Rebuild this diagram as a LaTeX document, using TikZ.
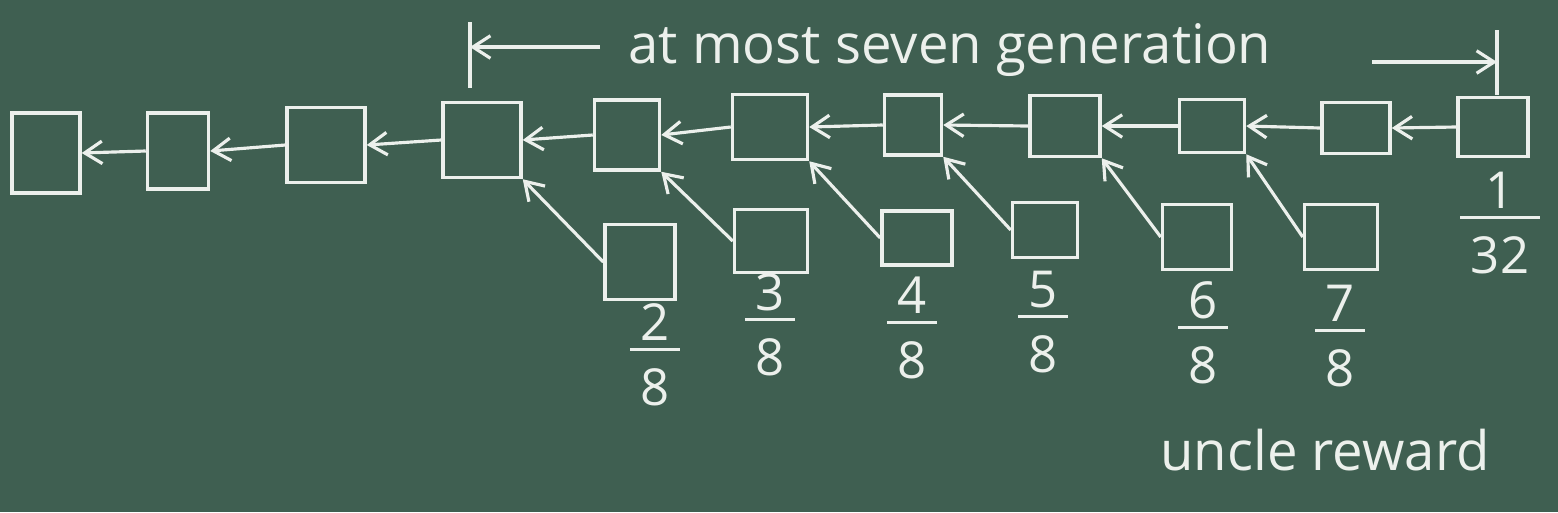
\documentclass[tikz,border=0pt]{standalone}
\usepackage{fontspec}
\setmainfont{Open Sans}
\usetikzlibrary{arrows.meta,positioning}

\definecolor{board}{RGB}{63,95,81}
\definecolor{chalk}{RGB}{236,240,236}

% stacked fraction in chalk
\newcommand{\frc}[2]{\begin{tabular}{@{\hspace{6pt}}c@{\hspace{6pt}}}#1\\[-5pt]\hline\rule{0pt}{31pt}#2\end{tabular}}

\begin{document}
\begin{tikzpicture}[
  x=0.02cm, y=-0.02cm,
  blk/.style={rectangle, draw=chalk, line width=2pt, inner sep=0pt},
  arrow/.style={draw=chalk, line width=1.8pt, -{Straight Barb[length=3.5mm, width=4.5mm]}},
  bar/.style={draw=chalk, line width=1.8pt},
  frac/.style={text=chalk, font=\fontsize{29}{31}\selectfont, inner sep=0pt},
  words/.style={text=chalk, font=\fontsize{31}{34}\selectfont, inner sep=0pt}]

\fill[board] (0,0) rectangle (1558,512);
\useasboundingbox (0,0) rectangle (1558,512);
\arrayrulewidth=1.8pt

% main chain
\node[blk, minimum width=1.36cm, minimum height=1.60cm] (b1) at (46,153) {};
\node[blk, minimum width=1.22cm, minimum height=1.52cm] (b2) at (178,151) {};
\node[blk, minimum width=1.56cm, minimum height=1.50cm] (b3) at (326,145) {};
\node[blk, minimum width=1.56cm, minimum height=1.50cm] (b4) at (482,140) {};
\node[blk, minimum width=1.30cm, minimum height=1.40cm] (b5) at (627,135) {};
\node[blk, minimum width=1.50cm, minimum height=1.30cm] (b6) at (770,127) {};
\node[blk, minimum width=1.14cm, minimum height=1.20cm] (b7) at (913,125) {};
\node[blk, minimum width=1.40cm, minimum height=1.22cm] (b8) at (1065,126) {};
\node[blk, minimum width=1.30cm, minimum height=1.06cm] (b9) at (1212,126) {};
\node[blk, minimum width=1.36cm, minimum height=1.02cm] (b10) at (1356,128) {};
\node[blk, minimum width=1.40cm, minimum height=1.18cm] (b11) at (1493,127) {};

% uncles
\node[blk, minimum width=1.40cm, minimum height=1.50cm] (u1) at (640,262) {};
\node[blk, minimum width=1.46cm, minimum height=1.26cm] (u2) at (771,241) {};
\node[blk, minimum width=1.40cm, minimum height=1.08cm] (u3) at (917,238) {};
\node[blk, minimum width=1.30cm, minimum height=1.10cm] (u4) at (1045,230) {};
\node[blk, minimum width=1.38cm, minimum height=1.30cm] (u5) at (1197,237) {};
\node[blk, minimum width=1.46cm, minimum height=1.30cm] (u6) at (1341,237) {};

% rewards
\node[frac] (f2) at (655,362) {\frc{2}{8}};
\node[frac] (f3) at (770,332) {\frc{3}{8}};
\node[frac] (f4) at (912,335) {\frc{4}{8}};
\node[frac] (f5) at (1043,329) {\frc{5}{8}};
\node[frac] (f6) at (1203,340) {\frc{6}{8}};
\node[frac] (f7) at (1340,343) {\frc{7}{8}};
\node[frac] (f32) at (1500,230) {\frc{1}{32}};

\node[words] (title) at (950,50) {at most seven generation};
\node[words] (reward) at (1325,450) {uncle reward};

% span marks
\coordinate (lt) at (470,22);
\coordinate (lb) at (470,88);
\coordinate (lm) at (470,47);
\coordinate (ls) at (600,47);
\coordinate (rt) at (1497,30);
\coordinate (rb) at (1497,95);
\coordinate (rm) at (1497,62);
\coordinate (rs) at (1372,62);
\draw[bar] (lt) -- (lb);
\draw[bar] (rt) -- (rb);
\draw[arrow] (ls) -- (lm);
\draw[arrow] (rs) -- (rm);

% Arrows
\foreach \i/\j in {2/1,3/2,4/3,5/4,6/5,7/6,8/7,9/8,10/9,11/10}
  \draw[arrow] (b\i.west) -- (b\j.east);
\foreach \i/\j in {1/4,2/5,3/6,4/7,5/8,6/9}
  \draw[arrow] (u\i.west) -- (b\j.south east);

\end{tikzpicture}
\end{document}
